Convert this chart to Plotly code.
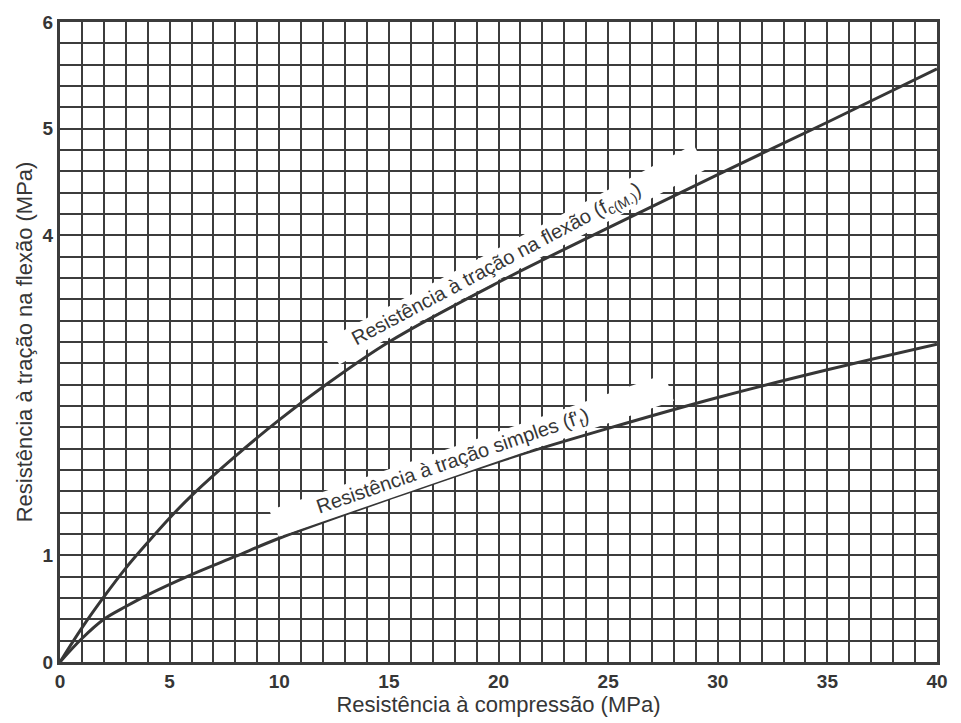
import plotly.graph_objects as go

# Data
x_flex = [0, 1, 2, 3, 4, 5, 6, 8, 10, 12, 15, 20, 25, 30, 35, 40]
y_flex = [0, 0.32, 0.61, 0.88, 1.12, 1.35, 1.56, 1.93, 2.27, 2.58, 3.0, 3.56, 4.07, 4.57, 5.06, 5.56]

x_simp = [0, 1, 2, 3, 4, 6, 8, 10, 15, 20, 25, 30, 35, 40]
y_simp = [0, 0.22, 0.40, 0.52, 0.63, 0.82, 0.99, 1.16, 1.53, 1.88, 2.19, 2.48, 2.74, 2.98]

x_ticks = [0, 5, 10, 15, 20, 25, 30, 35, 40]
y_ticks = [0, 1, 4, 5, 6]

label_flex = "Resistência à tração na flexão (f<sub>c(M.)</sub>)"
label_simp = "Resistência à tração simples (f'<sub>t</sub>)"
x_title = "Resistência à compressão (MPa)"
y_title = "Resistência à tração na flexão (MPa)"

ink = "#363636"
grid = "#3c3c3c"
font_family = "Liberation Sans, Arial"

fig = go.Figure()
fig.add_trace(go.Scatter(x=x_flex, y=y_flex, mode="lines",
                         line=dict(color=ink, width=3, shape="spline", smoothing=1.0),
                         showlegend=False, hoverinfo="skip"))
fig.add_trace(go.Scatter(x=x_simp, y=y_simp, mode="lines",
                         line=dict(color=ink, width=3, shape="spline", smoothing=1.0),
                         showlegend=False, hoverinfo="skip"))

sp = "\u00a0"
fig.add_annotation(x=20.4, y=3.65, xshift=9, yshift=18,
                   text=sp * 4 + label_flex + sp * 12, showarrow=False,
                   textangle=-28, bgcolor="white", borderpad=1,
                   font=dict(family=font_family, size=20, color=ink))
fig.add_annotation(x=18.5, y=1.77, xshift=6, yshift=18,
                   text=sp * 8 + label_simp + sp * 15, showarrow=False,
                   textangle=-19, bgcolor="white", borderpad=1,
                   font=dict(family=font_family, size=20, color=ink))

axis_common = dict(showline=True, linecolor=grid, linewidth=3, mirror=True,
                   showgrid=True, gridcolor=grid, gridwidth=2, zeroline=False,
                   ticks="", layer="below traces")

fig.update_xaxes(range=[0, 40], tickvals=x_ticks, ticktext=[str(v) for v in x_ticks],
                 minor=dict(tickmode="linear", tick0=0, dtick=1, showgrid=True,
                            gridcolor=grid, gridwidth=2),
                 tickfont=dict(family=font_family, size=19, color=ink, weight="bold"),
                 title=dict(text=x_title, standoff=4,
                            font=dict(family=font_family, size=22, color=ink)),
                 **axis_common)
fig.update_yaxes(range=[0, 6], tickvals=y_ticks, ticktext=[str(v) for v in y_ticks],
                 minor=dict(tickmode="linear", tick0=0, dtick=0.2, showgrid=True,
                            gridcolor=grid, gridwidth=2),
                 tickfont=dict(family=font_family, size=19, color=ink, weight="bold"),
                 title=dict(text=y_title, standoff=4,
                            font=dict(family=font_family, size=22, color=ink)),
                 **axis_common)

fig.update_layout(width=961, height=723, margin=dict(l=60, r=24, t=13, b=61),
                  paper_bgcolor="white", plot_bgcolor="white")

fig.write_html("out.html")
